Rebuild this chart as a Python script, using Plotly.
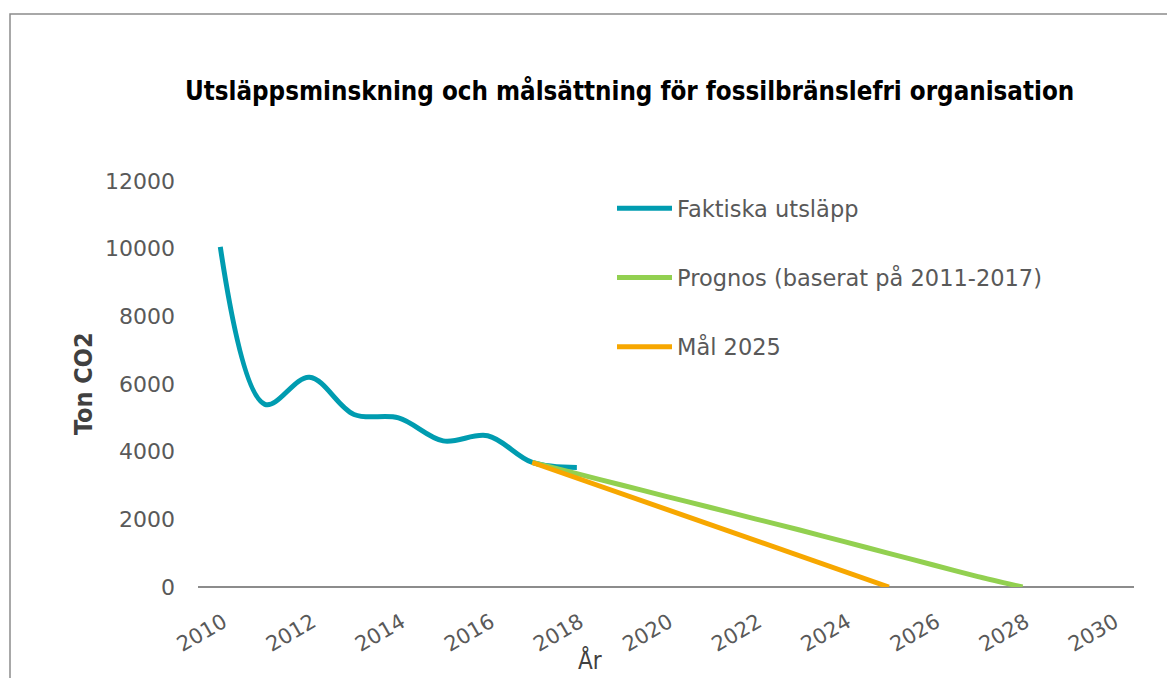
import plotly.graph_objects as go

# ---- data ----
years_actual = [2010, 2011, 2012, 2013, 2014, 2015, 2016, 2017, 2018]
actual = [10050, 5400, 6200, 5100, 5000, 4320, 4470, 3680, 3530]

years_prognos = [2017, 2018, 2019, 2020, 2021, 2022, 2023, 2024, 2025, 2026, 2027, 2028]
prognos = [3680, 3350, 3015, 2680, 2350, 2015, 1685, 1340, 995, 650, 305, 0]

years_goal = [2017, 2018, 2019, 2020, 2021, 2022, 2023, 2024, 2025]
goal = [3680, 3220, 2760, 2300, 1840, 1380, 920, 460, 0]

x_ticks = [2010, 2012, 2014, 2016, 2018, 2020, 2022, 2024, 2026, 2028, 2030]
y_ticks = [0, 2000, 4000, 6000, 8000, 10000, 12000]

names = ["Faktiska utsläpp", "Prognos (baserat på 2011-2017)", "Mål 2025"]
colors = ["#009CB0", "#92D050", "#F7A700"]

title_text = "Utsläppsminskning och målsättning för fossilbränslefri organisation"
y_title = "Ton CO2"
x_title = "År"

# ---- layout geometry ----
# The page has an 8px body margin, so screen pixel s corresponds to figure pixel s - 8.
OFF = 8
W, H = 1175, 678
ML = 198 - OFF
MT = 181 - OFF
MR = W - (1134 - OFF)
MB = H - (587 - OFF)
PW = W - ML - MR
PH = H - MT - MB


def px(s):
    return (s - OFF - ML) / PW


def py(s):
    return (H - MB - (s - OFF)) / PH


cond = "DejaVu Sans Condensed, DejaVu Sans"

fig = go.Figure()
fig.add_trace(go.Scatter(x=years_actual, y=actual, name=names[0], mode="lines",
                         line=dict(color=colors[0], width=5, shape="spline", smoothing=1.0),
                         legendgroup="a"))
fig.add_trace(go.Scatter(x=years_prognos, y=prognos, name=names[1], mode="lines",
                         line=dict(color=colors[1], width=5, shape="spline", smoothing=0.6),
                         legendgroup="b"))
fig.add_trace(go.Scatter(x=years_goal, y=goal, name=names[2], mode="lines",
                         line=dict(color=colors[2], width=5),
                         legendgroup="c"))

fig.update_layout(
    width=W, height=H,
    margin=dict(l=ML, r=MR, t=MT, b=MB, pad=0),
    paper_bgcolor="white", plot_bgcolor="white",
    showlegend=True,
    legend=dict(x=px(612), y=py(187), xanchor="left", yanchor="top",
                font=dict(family="DejaVu Sans", size=22.5, color="#595959"),
                bgcolor="rgba(0,0,0,0)", borderwidth=0,
                itemwidth=55, tracegroupgap=37),
    xaxis=dict(range=[2009.5, 2030.5], tickvals=x_ticks, ticktext=[str(v) for v in x_ticks],
               tickangle=-30, tickfont=dict(family="DejaVu Sans", size=21, color="#595959"),
               showgrid=False, zeroline=False, showline=False, ticks="",
               ticklabelstandoff=18, ticklabelshift=3),
    yaxis=dict(range=[0, 12000], tickvals=y_ticks, ticktext=[str(v) for v in y_ticks],
               tickfont=dict(family="DejaVu Sans", size=22, color="#595959"),
               showgrid=False, zeroline=True, zerolinecolor="#8C8C8C",
               zerolinewidth=2, showline=False, ticks="", ticklabelstandoff=22),
    shapes=[
        dict(type="rect", xref="paper", yref="paper",
             x0=px(10), x1=px(1195), y0=py(700), y1=py(14),
             line=dict(color="#8C8C8C", width=1.5), fillcolor="rgba(0,0,0,0)", layer="below"),
    ],
    annotations=[
        dict(text=title_text, xref="paper", yref="paper", x=px(629), y=py(90),
             xanchor="center", yanchor="middle", showarrow=False,
             font=dict(family=cond, size=25.7, color="#000000", weight="bold")),
        dict(text=y_title, xref="paper", yref="paper", x=px(83), y=py(384),
             xanchor="center", yanchor="middle", showarrow=False, textangle=-90,
             font=dict(family=cond, size=25, color="#404040", weight="bold")),
        dict(text=x_title, xref="paper", yref="paper", x=px(590), y=py(660),
             xanchor="center", yanchor="middle", showarrow=False,
             font=dict(family=cond, size=24, color="#404040")),
    ],
)

fig.write_html("out.html")
